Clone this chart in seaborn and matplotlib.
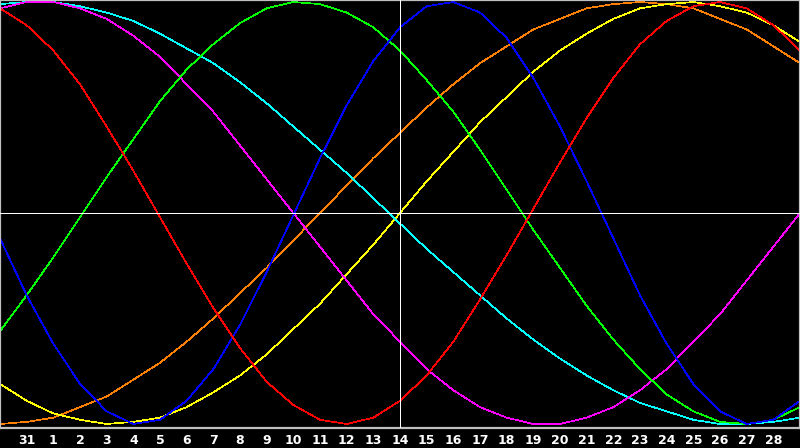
import matplotlib
matplotlib.use("Agg")
import matplotlib.pyplot as plt
import numpy as np
import pandas as pd
import seaborn as sns

# day slots across the chart, centre slot (index 15) is the 14th
day_index = list(range(31))
day_labels = ["31"] + [str(d) for d in range(1, 29)]
label_index = list(range(1, 30))
centre_index = 15

# cycle values in percent
red = [97, 89, 77, 61, 41, 20, -2, -24, -45, -64, -80, -91, -98, -100, -97, -89,
       -77, -61, -41, -20, 2, 24, 45, 64, 80, 91, 98, 100, 97, 89, 77]
green = [-56, -39, -21, -2, 17, 35, 53, 68, 80, 90, 97, 100, 99, 95, 88, 77,
         63, 48, 30, 11, -8, -26, -44, -60, -74, -86, -94, -99, -100, -98, -92]
blue = [-12, -39, -62, -81, -94, -100, -98, -89, -74, -53, -28, -1, 26, 51, 72, 88,
        98, 100, 95, 83, 64, 41, 15, -12, -39, -62, -81, -94, -100, -98, -89]
cyan = [99, 100, 100, 98, 95, 91, 85, 78, 71, 62, 52, 41, 30, 19, 7, -5,
        -17, -28, -39, -50, -60, -69, -77, -84, -90, -94, -98, -100, -100, -99, -97]
magenta = [97, 100, 100, 97, 92, 84, 74, 61, 48, 32, 16, 0, -16, -32, -48, -61,
           -74, -84, -92, -97, -100, -100, -97, -92, -84, -74, -61, -48, -32, -16, 0]
orange = [-100, -99, -97, -92, -87, -79, -71, -61, -50, -38, -26, -13, 0, 13, 26, 38,
          50, 61, 71, 79, 87, 92, 97, 99, 100, 99, 97, 92, 87, 79, 71]
yellow = [-81, -89, -95, -98, -100, -99, -97, -92, -85, -77, -67, -55, -43, -29, -15, 0,
          15, 29, 43, 55, 67, 77, 85, 92, 97, 99, 100, 98, 95, 89, 81]

series = {"orange": orange, "yellow": yellow, "cyan": cyan, "magenta": magenta,
          "green": green, "blue": blue, "red": red}
palette = {"orange": "#ff8000", "yellow": "#ffff00", "cyan": "#00ffff",
           "magenta": "#ff00ff", "green": "#00ff00", "blue": "#0000ff",
           "red": "#ff0000"}

df = pd.concat([pd.DataFrame({"idx": day_index, "value": v, "series": k})
                for k, v in series.items()], ignore_index=True)

sns.set_style("dark")
plt.rcParams['font.family'] = ['DejaVu Sans']

fig = plt.figure(figsize=(8, 4.48), dpi=100, facecolor="black")
ax = fig.add_axes([0, 20 / 448, 1, 428 / 448])
ax.set_facecolor("black")

sns.lineplot(data=df, x="idx", y="value", hue="series", palette=palette,
             hue_order=list(series.keys()), legend=False, linewidth=0.5,
             antialiased=False, ax=ax)

ax.axhline(0, color="white", linewidth=0.72, antialiased=False, zorder=5)
ax.axvline(centre_index, color="white", linewidth=0.72, antialiased=False, zorder=5)

ax.set_xlim(0, 30)
ax.set_ylim(-101.9, 100.95)
ax.set_xticks(label_index)
ax.set_xticklabels(day_labels, fontsize=9, fontweight="bold", color="white")
ax.set_yticks([])
ax.tick_params(axis="x", direction="in", length=3.8, width=0.8, color="white", pad=4)
ax.set_xlabel("")
ax.set_ylabel("")
ax.grid(False)
for side in ["left", "right", "top", "bottom"]:
    ax.spines[side].set_visible(True)
    ax.spines[side].set_color("#c0c0c0")
    ax.spines[side].set_linewidth(1.6)

fig.savefig("out.png", dpi=100, facecolor="black")
plt.close(fig)
